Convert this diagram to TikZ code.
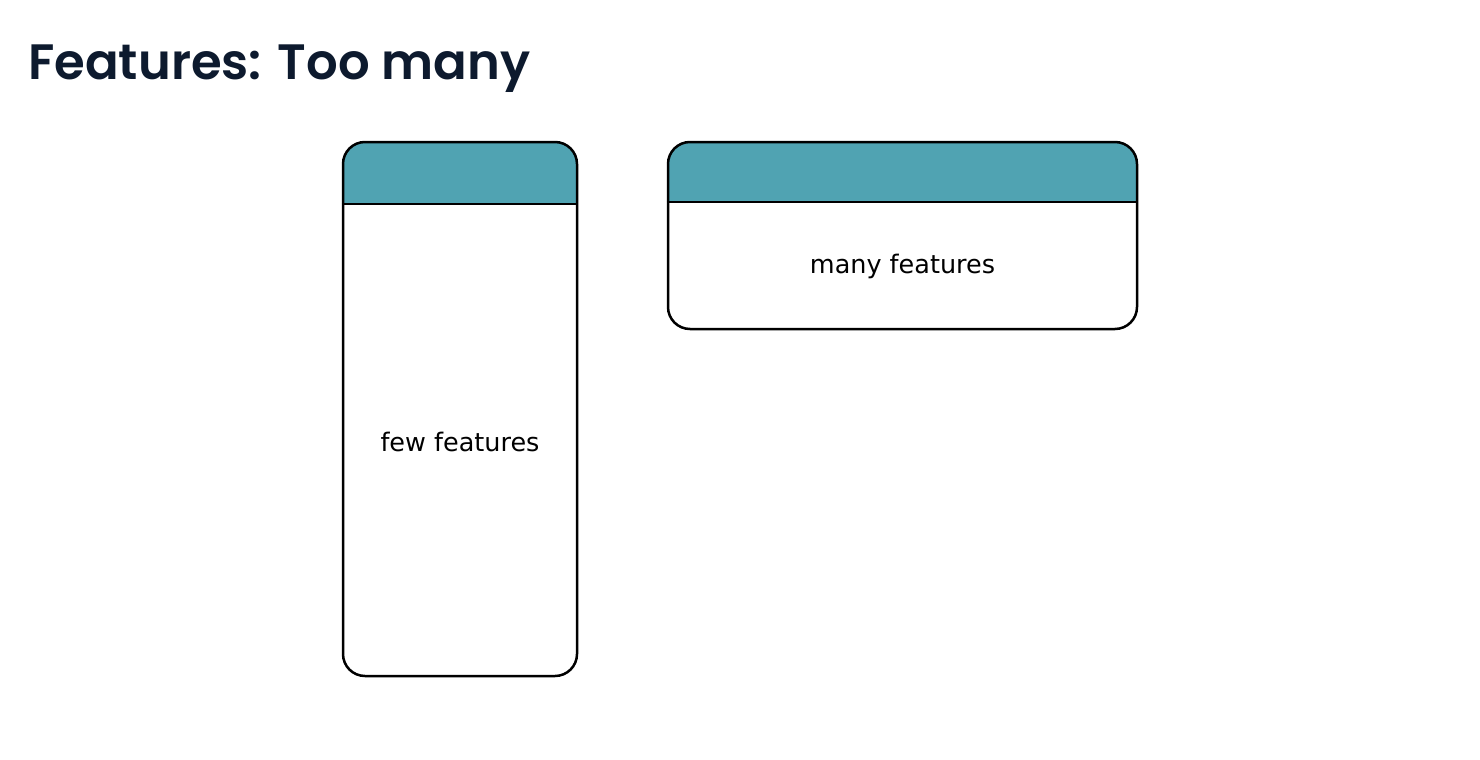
\documentclass[tikz,border=0pt]{standalone}
\usepackage{fontspec}
\setmainfont{DejaVu Sans}
\newfontfamily\titlefont{Poppins}[UprightFont={* SemiBold}]
\definecolor{headteal}{HTML}{50A3B2}
\definecolor{titlenavy}{HTML}{0D1A2E}
\tikzset{
  cardbox/.style={draw=black, line width=2.5pt, rounded corners=22pt, inner sep=0pt, fill=white},
  cardtext/.style={font=\fontsize{25.5pt}{30pt}\selectfont, text=black, inner sep=0pt},
  headline/.style={draw=black, line width=2pt}
}
\begin{document}
\begin{tikzpicture}[x=1pt,y=-1pt]
\useasboundingbox (0,0) rectangle (1480,760);
\node[anchor=base west, inner sep=0pt, text=titlenavy] (title) at (28,80)
  {\resizebox{502pt}{!}{\titlefont Features: Too many}};
% left card
\node[cardbox, minimum width=234pt, minimum height=534pt,
  path picture={\fill[headteal, sharp corners] (path picture bounding box.north west) rectangle ([yshift=-63pt]path picture bounding box.north east);}]
  (few) at (460,409) {};
\draw[headline] ([yshift=-63pt]few.north west) -- ([yshift=-63pt]few.north east);
\node[cardtext] (fewtxt) at (460,442) {few features};
% right card
\node[cardbox, minimum width=469pt, minimum height=187pt,
  path picture={\fill[headteal, sharp corners] (path picture bounding box.north west) rectangle ([yshift=-61pt]path picture bounding box.north east);}]
  (many) at (902.5,235.5) {};
\draw[headline] ([yshift=-61pt]many.north west) -- ([yshift=-61pt]many.north east);
\node[cardtext] (manytxt) at (902.5,266) {many features};
\end{tikzpicture}
\end{document}
